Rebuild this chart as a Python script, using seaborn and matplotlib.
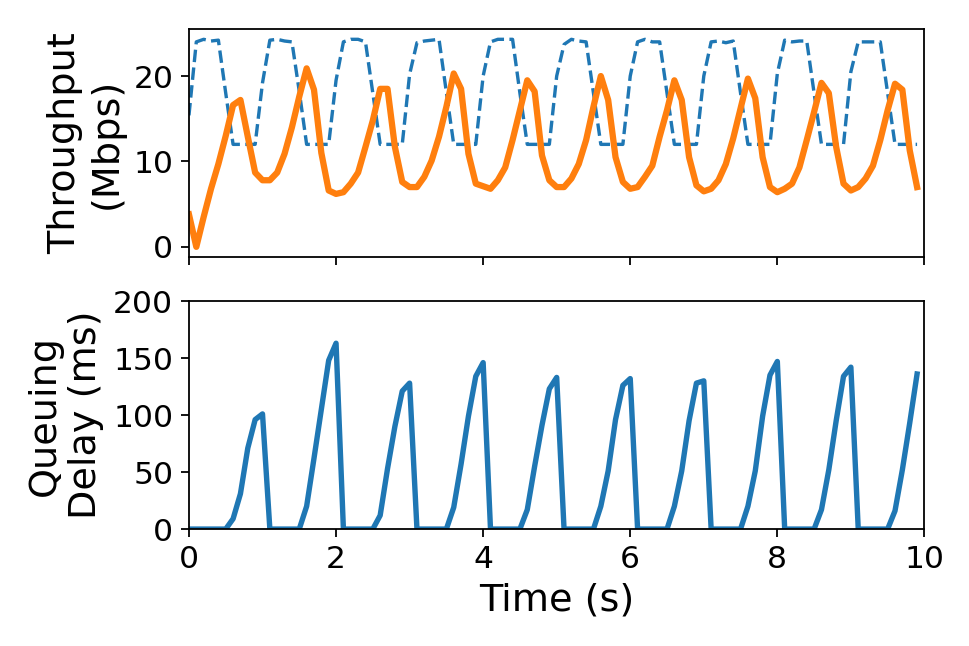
import numpy as np
import pandas as pd
import matplotlib
matplotlib.use("Agg")
import matplotlib.pyplot as plt
import seaborn as sns

# sampling grid (s)
time_s = np.round(np.arange(0, 100) * 0.1, 1)

# link capacity (Mbps), dashed blue
capacity = [
    15.4, 24.0, 24.3, 24.1, 24.2, 18.0, 12.0, 12.0, 12.0, 12.0,
    19.2, 24.2, 24.3, 24.1, 24.0, 18.2, 12.0, 12.0, 12.0, 12.0,
    19.5, 24.0, 24.3, 24.3, 24.0, 18.0, 12.0, 12.0, 12.0, 12.0,
    20.2, 23.9, 24.1, 24.2, 24.3, 18.1, 12.0, 12.0, 12.0, 12.0,
    20.0, 24.0, 24.3, 24.3, 24.3, 18.0, 12.0, 12.0, 12.0, 12.0,
    20.0, 23.7, 24.3, 24.1, 24.0, 18.0, 12.0, 12.0, 12.0, 12.0,
    20.0, 24.0, 24.3, 24.0, 24.0, 18.0, 12.0, 12.0, 12.0, 12.0,
    20.0, 24.0, 24.1, 23.9, 24.1, 18.0, 12.0, 12.0, 12.0, 12.0,
    20.3, 24.2, 24.0, 24.1, 24.1, 18.0, 12.0, 12.0, 12.0, 12.0,
    20.5, 24.0, 24.0, 24.0, 24.0, 18.0, 12.0, 12.0, 12.0, 12.0,
]

# achieved throughput (Mbps), solid orange
throughput = [
    3.8, 0.0, 3.5, 6.8, 9.7, 13.0, 16.6, 17.2, 12.9, 8.7,
    7.8, 7.8, 8.7, 10.9, 14.0, 17.6, 20.9, 18.4, 11.0, 6.6,
    6.2, 6.4, 7.4, 8.7, 11.7, 14.8, 18.5, 18.5, 11.7, 7.6,
    7.0, 7.0, 8.2, 10.1, 12.9, 16.4, 20.3, 18.5, 10.9, 7.4,
    7.1, 6.8, 7.8, 9.3, 12.5, 16.0, 19.5, 18.2, 10.7, 7.8,
    7.0, 7.0, 8.0, 9.7, 12.5, 16.4, 20.0, 17.2, 10.5, 7.6,
    6.8, 7.0, 8.2, 9.5, 12.9, 16.0, 19.5, 17.2, 10.5, 7.2,
    6.5, 6.8, 7.8, 9.7, 12.7, 16.2, 19.7, 17.4, 10.5, 7.0,
    6.4, 6.8, 7.4, 9.3, 12.5, 15.8, 19.2, 18.0, 11.7, 7.4,
    6.6, 7.0, 8.0, 9.5, 12.5, 16.0, 19.1, 18.4, 11.3, 7.0,
]

# queuing delay (ms)
queuing_delay = [
    0, 0, 0, 0, 0, 0, 9, 31, 71, 96,
    101, 0, 0, 0, 0, 0, 20, 62, 105, 148,
    163, 0, 0, 0, 0, 0, 12, 53, 90, 121,
    128, 0, 0, 0, 0, 0, 19, 57, 99, 134,
    146, 0, 0, 0, 0, 0, 17, 55, 91, 123,
    133, 0, 0, 0, 0, 0, 20, 51, 96, 126,
    132, 0, 0, 0, 0, 0, 20, 51, 95, 128,
    130, 0, 0, 0, 0, 0, 20, 51, 99, 135,
    147, 0, 0, 0, 0, 0, 17, 52, 95, 134,
    142, 0, 0, 0, 0, 0, 16, 52, 93, 136,
]

x_ticks = [0, 2, 4, 6, 8, 10]
top_yticks = [0, 10, 20]
bottom_yticks = [0, 50, 100, 150, 200]

df = pd.DataFrame({
    "t": time_s,
    "capacity": capacity,
    "throughput": throughput,
    "delay": queuing_delay,
})

plt.rcParams["font.family"] = ["DejaVu Sans"]

fig = plt.figure(figsize=(6, 4), dpi=161.5)
ax1 = fig.add_axes([0.195, 0.602, 0.759, 0.353])
ax2 = fig.add_axes([0.195, 0.181, 0.759, 0.353], sharex=ax1)

sns.lineplot(data=df, x="t", y="capacity", ax=ax1, color="#1f77b4",
             linestyle="--", linewidth=1.5)
sns.lineplot(data=df, x="t", y="throughput", ax=ax1, color="#ff7f0e",
             linewidth=2.8)
sns.lineplot(data=df, x="t", y="delay", ax=ax2, color="#1f77b4",
             linewidth=2.4)

ax1.set_xlim(0, 10)
ax1.set_ylim(-1.2, 25.5)
ax2.set_ylim(0, 200)
ax2.set_xticks(x_ticks)
ax1.set_yticks(top_yticks)
ax2.set_yticks(bottom_yticks)

ax1.tick_params(labelbottom=False, labelsize=14)
ax2.tick_params(labelsize=14)

ax1.set_xlabel("")
ax1.set_ylabel("Throughput\n(Mbps)", fontsize=17)
ax2.set_ylabel("Queuing\nDelay (ms)", fontsize=17)
ax2.set_xlabel("Time (s)", fontsize=17)

fig.savefig("out.png", dpi=161.5)
